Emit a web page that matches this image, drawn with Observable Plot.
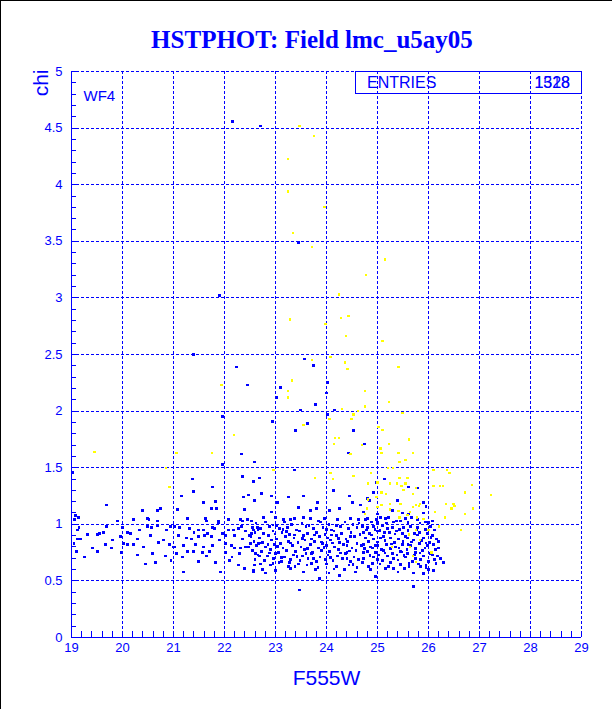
<!DOCTYPE html>
<html><head><meta charset="utf-8">
<script src="https://cdn.jsdelivr.net/npm/d3@7"></script>
<script src="https://cdn.jsdelivr.net/npm/@observablehq/plot@0.6"></script>
<style>
html,body{margin:0;padding:0;background:#fff;}
#wrap{position:relative;width:612px;height:709px;overflow:hidden;font-family:"Liberation Sans",Arial,sans-serif;color:#0000ff;}
#title{position:absolute;left:6px;width:612px;top:27px;text-align:center;font-family:"Liberation Serif","Times New Roman",serif;font-weight:bold;font-size:25px;line-height:25px;color:#0000ff;white-space:nowrap;}
.bl{position:absolute;background:#000;}
#stats{position:absolute;left:355px;top:71px;width:225px;height:21px;border:1px solid #0000ff;box-sizing:content-box;}
#stats span{position:absolute;font-size:16px;line-height:16px;top:3px;color:#0000ff;}
#chart{position:absolute;left:0;top:0;}
</style></head>
<body><div id="wrap">
<div class="bl" style="left:0;top:0;width:1px;height:709px"></div>
<div class="bl" style="left:0;top:0;width:612px;height:1px"></div>
<div id="chart"></div>
<div id="title">HSTPHOT: Field lmc_u5ay05</div>
<div id="stats"><span style="left:11px">ENTRIES</span><span style="right:11px">1328</span><span style="right:11px;opacity:0.85">1518</span></div>
</div>
<script>
const xLabels = [19,20,21,22,23,24,25,26,27,28,29];
const yLabels = [0,0.5,1,1.5,2,2.5,3,3.5,4,4.5,5];
const xTitle = "F555W";
const yTitle = "chi";
const panelLabel = "WF4";

// blue stars: sparse upper scatter
const blueUpper = [[22.16,4.56],[22.71,4.52],[23.45,3.49],[21.90,3.02],[21.39,2.50],[23.57,2.46],[22.24,2.39],[23.75,2.40],[22.45,2.23],[24.02,2.25],[23.10,2.21],[23.02,2.12],[24.00,2.16],[23.78,2.06],[23.49,2.01],[24.16,2.01],[21.96,1.95],[24.02,1.97],[22.94,1.91],[23.63,1.89],[23.39,1.83],[24.53,1.83],[24.74,1.71],[24.43,1.63],[22.33,1.62],[22.59,1.55],[21.96,1.53],[23.37,1.48],[19.02,1.46],[22.35,1.42],[22.69,1.41],[22.57,1.38],[21.37,1.40],[25.14,1.40],[24.98,1.37],[21.76,1.33],[25.61,1.33],[25.78,1.32],[24.14,1.30],[21.39,1.29],[24.92,1.28],[21.16,1.25],[22.37,1.24],[22.47,1.26],[24.45,1.25],[22.73,1.27],[22.92,1.25],[23.25,1.24],[23.55,1.25],[24.80,1.23],[22.59,1.21],[24.84,1.21],[25.39,1.21],[21.59,1.19],[21.82,1.20],[23.04,1.19],[23.82,1.19],[24.51,1.19],[25.90,1.19],[19.69,1.17],[24.67,1.17],[23.45,1.15],[25.95,1.16]];

// blue: bright end of the main band
const blueLeft = [[20.39,1.12],[20.69,1.12],[20.75,1.14],[21.08,1.13],[21.75,1.14],[21.84,1.14],[22.39,1.13],[19.14,1.06],[19.06,1.04],[19.90,1.03],[20.22,1.04],[20.49,1.05],[20.52,1.04],[20.69,1.03],[21.27,1.05],[21.63,1.05],[21.65,1.03],[21.88,1.03],[22.08,1.04],[22.31,1.04],[22.35,1.03],[22.45,1.04],[22.53,1.03],[19.12,0.95],[19.69,0.98],[19.63,0.93],[19.55,0.92],[19.31,0.91],[19.12,0.87],[19.18,0.87],[19.51,0.91],[19.96,0.89],[20.10,0.93],[20.16,0.92],[20.33,0.95],[20.49,0.98],[20.57,0.97],[20.69,0.99],[20.86,0.95],[20.94,0.98],[21.02,0.98],[21.12,0.97],[21.10,0.90],[21.25,0.88],[21.31,0.96],[21.49,0.95],[21.49,0.89],[21.59,0.95],[21.61,0.90],[21.67,0.92],[21.76,0.97],[21.80,0.96],[21.88,1.01],[21.75,0.89],[21.96,0.92],[22.02,0.90],[22.08,0.95],[22.18,0.95],[22.27,0.96],[22.33,0.98],[22.41,0.94],[22.49,0.90],[22.53,0.92],[22.57,0.95],[22.65,0.97],[22.69,0.88],[19.10,0.76],[19.51,0.76],[19.25,0.71],[19.67,0.82],[19.41,0.79],[19.78,0.79],[19.98,0.75],[20.02,0.83],[20.10,0.82],[20.22,0.82],[20.29,0.73],[20.41,0.80],[20.59,0.74],[20.65,0.66],[20.71,0.84],[20.84,0.72],[20.92,0.82],[21.00,0.80],[21.06,0.74],[21.03,0.80],[21.18,0.71],[21.20,0.81],[21.27,0.76],[21.35,0.87],[21.39,0.76],[21.43,0.82],[21.49,0.67],[21.57,0.75],[21.59,0.80],[21.65,0.72],[21.76,0.81],[21.82,0.66],[21.92,0.58],[22.02,0.75],[22.02,0.83],[22.10,0.68],[22.14,0.81],[22.20,0.79],[22.27,0.64],[22.29,0.74],[22.31,0.79],[22.35,0.87],[22.41,0.80],[22.47,0.80],[22.51,0.83],[22.55,0.77],[22.59,0.64],[22.61,0.74],[22.67,0.83],[22.69,0.72],[22.57,0.58],[22.39,0.61],[21.20,0.58],[19.08,1.08],[19.15,0.97],[19.05,0.83]];

// blue: middle of the main band
const blueMid = [[22.62,1.01],[22.81,1.02],[23.02,0.99],[23.18,1.02],[23.31,1.00],[23.52,1.01],[23.66,0.99],[23.88,1.02],[24.05,1.00],[24.19,0.99],[24.36,1.02],[24.52,1.00],[24.64,1.01],
[22.55,0.97],[22.70,0.96],[22.88,0.98],[23.08,0.96],[23.24,0.97],[23.41,0.95],[23.60,0.98],[23.74,0.96],[23.93,0.97],[24.10,0.95],[24.27,0.98],[24.43,0.96],[24.60,0.97],
[22.60,0.93],[22.77,0.92],[22.95,0.94],[23.13,0.93],[23.28,0.91],[23.47,0.94],[23.63,0.92],[23.80,0.93],[23.97,0.91],[24.15,0.94],[24.30,0.92],[24.48,0.93],[24.66,0.91],
[22.52,0.89],[22.68,0.88],[22.86,0.90],[23.02,0.87],[23.20,0.89],[23.36,0.88],[23.55,0.90],[23.70,0.87],[23.86,0.89],[24.02,0.88],[24.20,0.90],[24.38,0.87],[24.55,0.89],
[22.58,0.85],[22.74,0.84],[22.92,0.86],[23.10,0.83],[23.26,0.85],[23.44,0.84],[23.58,0.86],[23.77,0.85],[23.92,0.83],[24.08,0.86],[24.25,0.84],[24.41,0.85],[24.60,0.83],
[22.63,0.81],[22.80,0.80],[22.98,0.82],[23.15,0.79],[23.33,0.81],[23.50,0.80],[23.68,0.82],[23.84,0.79],[24.00,0.81],[24.16,0.80],[24.33,0.82],[24.50,0.79],[24.68,0.81],
[22.55,0.77],[22.72,0.76],[22.90,0.78],[23.06,0.75],[23.22,0.77],[23.39,0.76],[23.57,0.78],[23.73,0.75],[23.90,0.77],[24.06,0.76],[24.24,0.78],[24.40,0.75],[24.58,0.77],
[22.66,0.73],[22.84,0.72],[23.00,0.74],[23.18,0.71],[23.35,0.73],[23.53,0.72],[23.70,0.74],[23.87,0.71],[24.03,0.73],[24.22,0.72],[24.37,0.74],[24.54,0.71],
[22.60,0.69],[22.78,0.68],[22.96,0.70],[23.12,0.67],[23.30,0.69],[23.48,0.68],[23.64,0.70],[23.81,0.67],[23.98,0.69],[24.13,0.68],[24.31,0.70],[24.47,0.67],[24.63,0.69],
[22.70,0.65],[22.90,0.64],[23.07,0.66],[23.25,0.63],[23.45,0.65],[23.62,0.64],[23.83,0.62],[24.00,0.65],[24.20,0.63],[24.44,0.64],[24.60,0.62],
[22.75,0.60],[23.00,0.59],[23.30,0.61],[23.55,0.58],[23.78,0.60],[24.05,0.57],[24.35,0.60],[24.57,0.58],
[23.47,0.42],[23.86,0.52],[22.80,0.57],[22.57,0.59],[24.25,0.55],
[22.95,0.995],[23.37,0.905],[23.90,0.845],[24.28,0.745],[23.15,0.955],[22.85,0.82],[23.6,0.74],[24.1,0.905],[23.28,0.665],[24.4,0.81],
[22.76,1.06],[23.00,1.06],[23.16,1.04],[23.29,1.04],[23.37,1.05],[23.55,1.06],[23.69,1.05],[23.84,1.03],[23.96,1.05],[24.22,1.04],[24.47,1.05],[24.63,1.04],[22.92,1.11],[23.69,1.12],[23.80,1.14],[24.06,1.12],[24.25,1.14]];

// blue: faint end of the main band
const blueRight = [[24.75,1.71],[24.80,1.05],[24.98,1.04],[25.16,1.05],[25.22,1.06],[25.37,1.03],
[24.73,1.11],[25.29,1.12],[25.49,1.10],[25.61,1.09],[25.90,1.10],[25.00,1.09],[24.76,1.04],[25.06,1.06],[25.55,1.05],[25.67,1.06],[25.78,1.04],[24.88,1.02],[25.31,1.02],[25.45,1.03],[25.94,1.02],[26.08,1.03],
[24.71,0.98],[24.80,0.97],[24.92,0.98],[25.10,0.99],[25.20,0.96],[25.29,0.97],[25.51,0.97],[25.65,0.98],[25.78,0.97],[26.04,0.98],
[24.73,0.93],[24.84,0.92],[25.00,0.94],[25.14,0.93],[25.37,0.94],[25.49,0.92],[25.73,0.92],[25.82,0.93],[25.98,0.92],[26.08,0.90],
[24.76,0.88],[24.92,0.87],[25.06,0.88],[25.25,0.88],[25.41,0.87],[25.59,0.88],[25.71,0.86],[25.90,0.88],[26.16,0.87],
[24.73,0.82],[24.86,0.80],[25.00,0.81],[25.18,0.82],[25.35,0.80],[25.49,0.82],[25.65,0.81],[25.82,0.83],[25.98,0.81],[26.10,0.82],
[24.80,0.76],[24.96,0.75],[25.12,0.77],[25.29,0.74],[25.45,0.76],[25.59,0.74],[25.75,0.75],[25.88,0.77],[26.04,0.74],[26.18,0.72],
[24.73,0.70],[24.92,0.71],[25.10,0.68],[25.31,0.70],[25.55,0.71],[25.69,0.67],[25.84,0.69],[26.00,0.67],[26.24,0.70],[26.29,0.66],
[24.71,0.66],[24.82,0.63],[25.16,0.61],[25.31,0.61],[25.53,0.61],[25.84,0.63],[26.00,0.60],[26.10,0.59],[25.71,0.57],[24.96,0.54],[25.71,0.45],
[24.78,0.95],[24.95,0.955],[25.05,0.945],[25.24,0.93],[25.43,0.955],[25.60,0.945],[25.76,0.95],[25.94,0.955],[26.12,0.95],
[24.82,0.85],[25.00,0.845],[25.15,0.855],[25.33,0.84],[25.50,0.85],[25.67,0.845],[25.86,0.855],[26.02,0.84],[26.20,0.85],
[24.75,0.785],[24.90,0.79],[25.08,0.78],[25.25,0.785],[25.42,0.79],[25.58,0.78],[25.74,0.785],[25.93,0.79],[26.14,0.78],
[24.85,0.725],[25.02,0.73],[25.20,0.72],[25.38,0.73],[25.52,0.725],[25.72,0.73],[25.90,0.72],[26.08,0.73],
[24.90,0.655],[25.05,0.65],[25.25,0.66],[25.45,0.645],[25.62,0.655],[25.80,0.65],[25.95,0.64],[26.15,0.655],
[25.00,1.015],[25.18,1.01],[25.60,1.015],[25.83,1.01],[26.00,1.015]];

// blue: further stars filling the band
const blueFill = [[22.66,0.955],[22.99,0.915],[23.21,0.935],[23.53,0.875],[23.76,0.905],[24.00,0.955],[24.23,0.875],[24.47,0.895],[22.71,0.835],[23.04,0.805],[23.29,0.835],[23.63,0.785],[23.95,0.795],[24.12,0.835],[24.45,0.765],[22.88,0.745],[23.12,0.705],[23.42,0.715],[23.75,0.695],[24.08,0.705],[24.40,0.695],[22.95,0.655],[23.38,0.625],[23.70,0.655],[24.15,0.605],[24.52,0.645],
[24.88,0.905],[25.12,0.895],[25.34,0.915],[25.55,0.895],[25.78,0.905],[26.05,0.885],[24.95,0.815],[25.27,0.825],[25.60,0.82],[25.95,0.835],[24.72,0.75],[25.15,0.745],[25.48,0.755],[25.83,0.745],[26.20,0.79],[25.00,0.69],[25.40,0.685],[25.75,0.695],[26.12,0.69],[25.22,0.63],[25.62,0.625],[25.95,0.62],[24.86,0.60],[25.40,0.58],[25.90,0.565],
[20.30,0.87],[20.55,0.90],[20.80,0.86],[21.40,0.93],[21.90,0.86],[22.20,0.90],[20.00,0.97],[19.80,0.86],[21.70,0.76],[22.15,0.71],[20.95,0.68],[20.45,0.65]];

// yellow: second population
const yellowPts = [[23.47,4.52],[23.76,4.43],[23.24,4.23],[23.24,3.94],[23.96,3.80],[23.35,3.57],[23.71,3.45],[25.14,3.34],[24.78,3.20],[24.24,3.03],[23.29,2.81],[24.29,2.82],[24.43,2.84],[23.98,2.77],[24.39,2.66],[25.10,2.62],[23.71,2.45],[24.08,2.48],[24.37,2.43],[24.41,2.37],[25.41,2.39],[21.94,2.23],[23.33,2.27],[23.25,2.18],[23.24,2.12],[24.75,2.18],[25.22,2.08],[24.31,2.02],[24.61,2.00],[24.75,2.04],[24.53,1.97],[24.49,1.93],[24.06,1.93],[23.55,1.88],[22.18,1.79],[25.02,1.86],[25.10,1.83],[24.24,1.76],[25.49,1.98],[25.61,1.75],[24.16,1.76],[24.14,1.71],[24.69,1.70],[24.47,1.62],[25.06,1.67],[25.22,1.71],[25.08,1.63],[25.41,1.63],[25.69,1.63],[25.55,1.57],[25.43,1.55],[25.31,1.50],[25.20,1.50],[25.43,1.41],[25.59,1.41],[26.10,1.48],[26.37,1.48],[26.41,1.45],[22.96,1.48],[24.08,1.45],[24.53,1.43],[24.88,1.45],[23.78,1.41],[24.12,1.40],[24.82,1.36],[25.00,1.37],[25.25,1.36],[25.39,1.36],[25.47,1.34],[25.55,1.36],[25.76,1.32],[25.51,1.30],[26.10,1.34],[26.22,1.34],[26.29,1.34],[25.08,1.28],[25.16,1.27],[25.69,1.27],[24.98,1.24],[24.82,1.22],[25.08,1.17],[25.25,1.18],[25.45,1.18],[25.75,1.17],[25.84,1.18],[26.35,1.18],[24.80,1.14],[25.00,1.15],[25.25,1.13],[25.41,1.12],[25.63,1.11],[25.69,1.15],[25.82,1.16],[26.12,1.11],[24.75,1.09],[25.43,1.06],[25.59,1.08],[25.78,1.06],[25.90,1.05],[26.33,1.06],[26.20,0.98],[25.75,0.95],[26.00,0.95],[25.61,0.91],[25.84,0.86],[25.29,0.80],[25.63,0.80],[26.06,0.75],[25.69,0.72],[25.76,0.67],[27.22,1.26],[26.88,1.14],[26.71,1.28],[26.86,1.35],[26.71,1.09],[26.63,0.95],[26.51,1.16],[26.49,1.18],[26.45,1.14],[19.45,1.64],[21.06,1.63],[21.75,1.63],[20.86,1.50],[20.92,1.33]];

const BLUE = "#0000ff", YELLOW = "#ffff00";
const bluePts = [...blueUpper, ...blueLeft, ...blueMid, ...blueRight, ...blueFill];
const xDomain = [xLabels[0], xLabels[xLabels.length-1]];
const yDomain = [yLabels[0], yLabels[yLabels.length-1]];
const xMinor = d3.range(xDomain[0], xDomain[1] + 1e-9, 0.2);
const yMinor = d3.range(yDomain[0], yDomain[1] + 1e-9, 0.1);
const W = 612, H = 709, mL = 71, mR = 31, mT = 71, mB = 72;
const fw = W - mL - mR, fh = H - mT - mB;

const plot = Plot.plot({
  width: W, height: H,
  marginLeft: mL, marginRight: mR, marginTop: mT, marginBottom: mB,
  x: {domain: xDomain},
  y: {domain: yDomain},
  style: {color: BLUE, background: "transparent", fontFamily: "'Liberation Sans', Arial, sans-serif", fontSize: "13px"},
  marks: [
    Plot.ruleX(xLabels.slice(1), {stroke: BLUE, strokeDasharray: "3,2", strokeWidth: 1}),
    Plot.ruleY(yLabels.slice(1), {stroke: BLUE, strokeDasharray: "3,2", strokeWidth: 1}),
    Plot.ruleX(xMinor, {x: d => d, stroke: BLUE, insetTop: fh - 6}),
    Plot.ruleY(yMinor, {y: d => d, stroke: BLUE, insetRight: fw - 5}),
    Plot.ruleX([xDomain[0]], {stroke: BLUE, strokeWidth: 1.2}),
    Plot.ruleY([yDomain[0]], {stroke: BLUE, strokeWidth: 1.2}),
    Plot.axisX({ticks: xLabels, tickSize: 0, tickPadding: 5, tickFormat: d => String(d), label: null}),
    Plot.axisY({ticks: yLabels, tickSize: 0, tickPadding: 9, tickFormat: d => String(d), label: null}),
    Plot.dot(bluePts, {x: d => d[0], y: d => d[1], symbol: "square", r: 1.5, fill: BLUE, stroke: null}),
    Plot.dot(yellowPts, {x: d => d[0], y: d => d[1], symbol: "square", r: 1.25, fill: YELLOW, stroke: null}),
    Plot.text([xTitle], {frameAnchor: "bottom", dy: 47, fontSize: 21, fill: BLUE}),
    Plot.text([yTitle], {frameAnchor: "top-left", dx: -38, dy: -2, rotate: -90, textAnchor: "end", fontSize: 21, fill: BLUE}),
    Plot.text([panelLabel], {frameAnchor: "top-left", dx: 12, dy: 19, textAnchor: "start", fontSize: 15, fill: BLUE})
  ]
});
plot.setAttribute("shape-rendering", "crispEdges");
document.getElementById("chart").appendChild(plot);
</script>
</body></html>
